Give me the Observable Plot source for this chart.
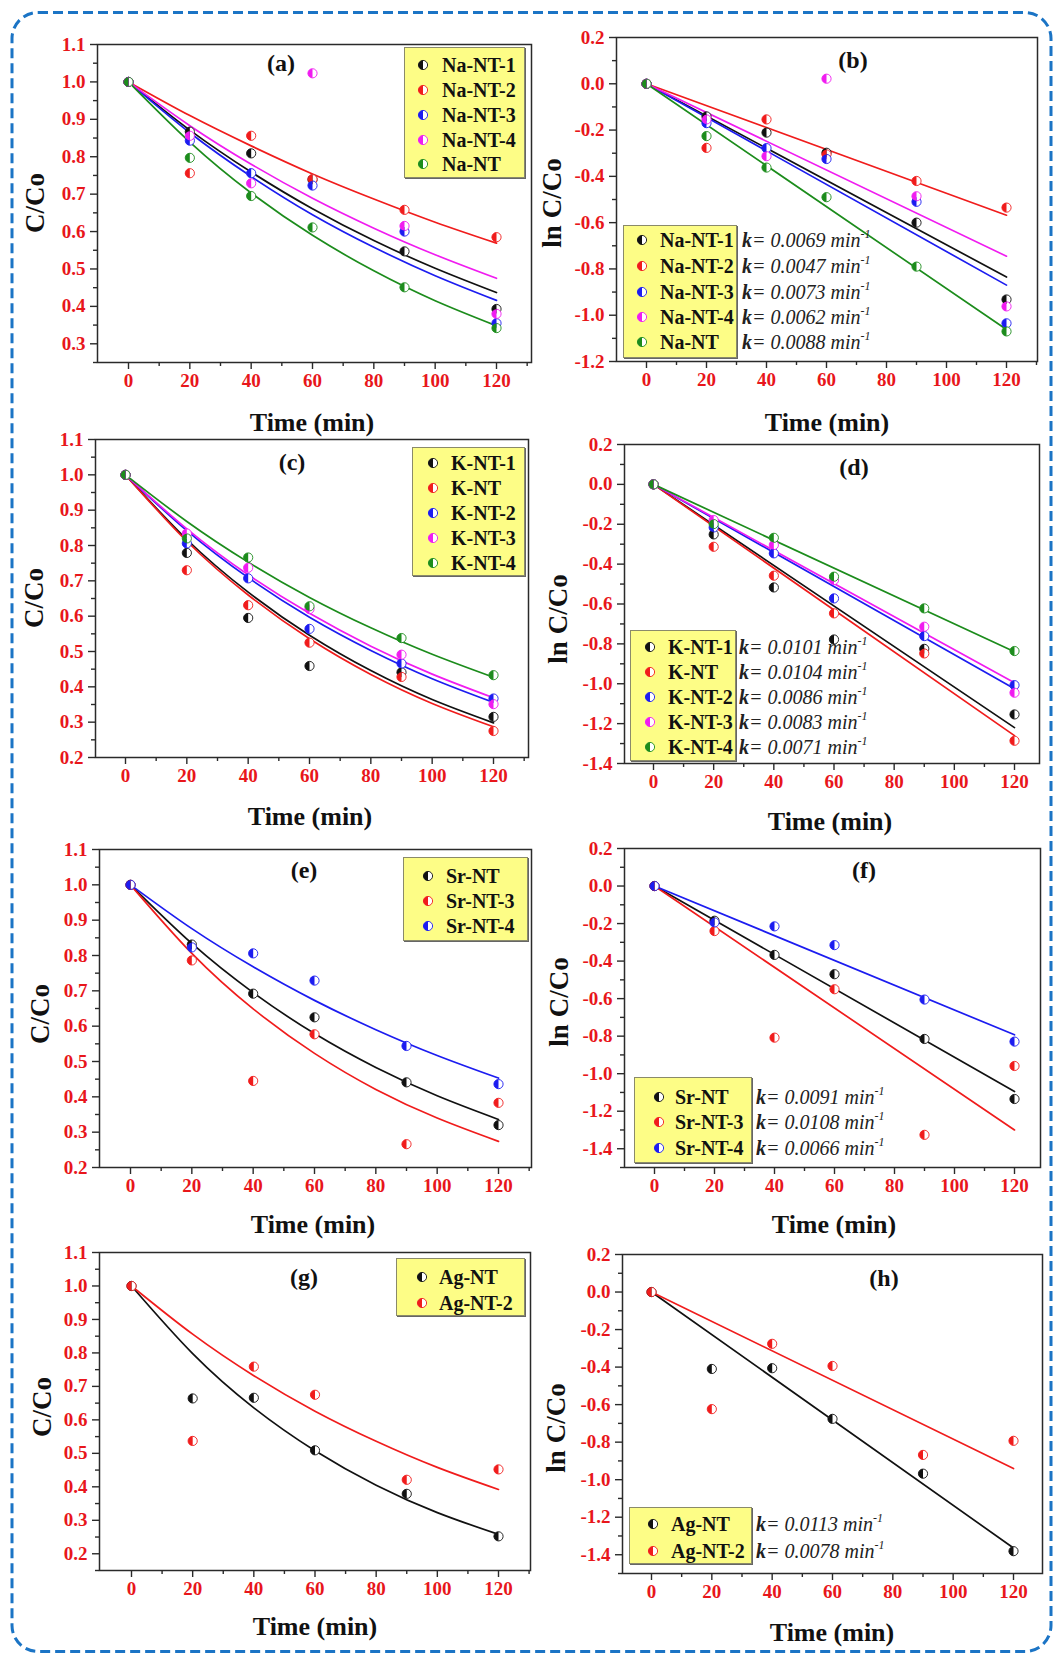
<!DOCTYPE html>
<html>
<head>
<meta charset="utf-8">
<script src="https://cdn.jsdelivr.net/npm/d3@7"></script>
<script src="https://cdn.jsdelivr.net/npm/@observablehq/plot@0.6"></script>
<style>
  body { margin: 0; background: #fff; }
  #root { position: relative; width: 1054px; height: 1654px; overflow: hidden; background: #fff;
          font-family: "Liberation Serif", "Times New Roman", serif; }
  #root svg text { font-family: "Liberation Serif", "Times New Roman", serif; font-weight: bold; font-size: 19px; }
  .ov { position: absolute; white-space: nowrap; line-height: 1; color: #111; }
  .title { font-weight: bold; font-size: 26px; transform: translate(-50%, -50%); }
  .ytitle { font-weight: bold; font-size: 27px; transform: translate(-50%, -50%) rotate(-90deg); }
  .plabel { font-weight: bold; font-size: 24px; transform: translate(-50%, -50%); }
  .lbox { position: absolute; background: #fdfd86; border: 1px solid #8a8a6a; box-shadow: 1px 1px 0 #666; }
  .ltext { font-weight: bold; font-size: 20px; transform: translateY(-50%); }
  .ktext { font-style: italic; font-size: 20px; transform: translateY(-50%); color: #222; }
  .ktext b { font-weight: bold; }
  .ktext sup { font-size: 12px; vertical-align: 9px; line-height: 0; }
</style>
</head>
<body>
<div id="root"></div>
<script>
// ---------------- data ----------------
const sampleTimes = [0, 20, 40, 60, 90, 120];
const fitTimesExp = [0, 20, 40, 60, 80, 100, 120];
const fitTimesLin = [0, 120];

const xMajor = [0, 20, 40, 60, 80, 100, 120];
const xMinor = [10, 30, 50, 70, 90, 110, 130];
const ratioMajor = [0.2, 0.3, 0.4, 0.5, 0.6, 0.7, 0.8, 0.9, 1.0, 1.1];
const ratioMinor = [0.15, 0.25, 0.35, 0.45, 0.55, 0.65, 0.75, 0.85, 0.95, 1.05];
const lnMajor = [-1.4, -1.2, -1.0, -0.8, -0.6, -0.4, -0.2, 0.0, 0.2];
const lnMinor = [-1.5, -1.3, -1.1, -0.9, -0.7, -0.5, -0.3, -0.1, 0.1];

// Na series (panels a, b)
const naNames = ["Na-NT-1", "Na-NT-2", "Na-NT-3", "Na-NT-4", "Na-NT"];
const naColors = ["#111111", "#f01c1c", "#1c1cf0", "#f01cf0", "#1c8c1c"];
const naRatio = [
  [1, 0.867, 0.809, 0.739, 0.547, 0.393],
  [1, 0.756, 0.856, 0.740, 0.658, 0.585],
  [1, 0.843, 0.756, 0.723, 0.600, 0.355],
  [1, 0.856, 0.729, 1.023, 0.615, 0.380],
  [1, 0.797, 0.695, 0.611, 0.451, 0.342]
];
const naRatioFit = [
  [1, 0.871, 0.759, 0.661, 0.576, 0.502, 0.437],
  [1, 0.910, 0.829, 0.754, 0.687, 0.625, 0.569],
  [1, 0.864, 0.747, 0.645, 0.558, 0.482, 0.416],
  [1, 0.883, 0.780, 0.689, 0.609, 0.538, 0.475],
  [1, 0.839, 0.703, 0.590, 0.495, 0.415, 0.348]
];
const naLn = [
  [0, -0.141, -0.211, -0.298, -0.600, -0.932],
  [0, -0.277, -0.154, -0.305, -0.420, -0.535],
  [0, -0.170, -0.278, -0.325, -0.510, -1.035],
  [0, -0.154, -0.313, 0.022, -0.486, -0.962],
  [0, -0.226, -0.362, -0.490, -0.790, -1.070]
];
const naLnFit = [[0, -0.835], [0, -0.568], [0, -0.870], [0, -0.745], [0, -1.062]];
const naK = ["0.0069", "0.0047", "0.0073", "0.0062", "0.0088"];

// K series (panels c, d)
const kNames = ["K-NT-1", "K-NT", "K-NT-2", "K-NT-3", "K-NT-4"];
const kColors = ["#111111", "#f01c1c", "#1c1cf0", "#f01cf0", "#1c8c1c"];
const kRatio = [
  [1, 0.779, 0.595, 0.459, 0.441, 0.315],
  [1, 0.730, 0.631, 0.525, 0.428, 0.275],
  [1, 0.806, 0.707, 0.564, 0.466, 0.367],
  [1, 0.834, 0.737, 0.620, 0.491, 0.351],
  [1, 0.820, 0.766, 0.628, 0.538, 0.433]
];
const kRatioFit = [
  [1, 0.817, 0.668, 0.546, 0.446, 0.364, 0.298],
  [1, 0.812, 0.660, 0.536, 0.435, 0.353, 0.287],
  [1, 0.842, 0.709, 0.597, 0.503, 0.423, 0.356],
  [1, 0.847, 0.717, 0.608, 0.515, 0.436, 0.369],
  [1, 0.868, 0.753, 0.653, 0.567, 0.492, 0.427]
];
const kLn = [
  [0, -0.251, -0.517, -0.778, -0.825, -1.154],
  [0, -0.313, -0.458, -0.647, -0.848, -1.286],
  [0, -0.216, -0.346, -0.572, -0.761, -1.007],
  [0, -0.179, -0.304, -0.480, -0.714, -1.045],
  [0, -0.199, -0.268, -0.463, -0.622, -0.836]
];
const kLnFit = [[0, -1.22], [0, -1.26], [0, -1.025], [0, -0.995], [0, -0.84]];
const kK = ["0.0101", "0.0104", "0.0086", "0.0083", "0.0071"];

// Sr series (panels e, f)
const srNames = ["Sr-NT", "Sr-NT-3", "Sr-NT-4"];
const srColors = ["#111111", "#f01c1c", "#1c1cf0"];
const srRatio = [
  [1, 0.831, 0.692, 0.625, 0.441, 0.320],
  [1, 0.786, 0.445, 0.577, 0.266, 0.383],
  [1, 0.823, 0.806, 0.729, 0.544, 0.436]
];
const srRatioFit = [
  [1, 0.834, 0.695, 0.579, 0.483, 0.403, 0.336],
  [1, 0.806, 0.649, 0.523, 0.421, 0.340, 0.274],
  [1, 0.876, 0.768, 0.673, 0.590, 0.517, 0.453]
];
const srLn = [
  [0, -0.185, -0.367, -0.470, -0.815, -1.135],
  [0, -0.240, -0.808, -0.550, -1.326, -0.959],
  [0, -0.194, -0.215, -0.315, -0.605, -0.829]
];
const srLnFit = [[0, -1.095], [0, -1.30], [0, -0.793]];
const srK = ["0.0091", "0.0108", "0.0066"];

// Ag series (panels g, h)
const agNames = ["Ag-NT", "Ag-NT-2"];
const agColors = ["#111111", "#f01c1c"];
const agRatio = [
  [1, 0.664, 0.666, 0.509, 0.379, 0.252],
  [1, 0.537, 0.759, 0.675, 0.421, 0.452]
];
const agRatioFit = [
  [1, 0.798, 0.636, 0.508, 0.405, 0.323, 0.258],
  [1, 0.856, 0.732, 0.626, 0.536, 0.458, 0.392]
];
const agLn = [
  [0, -0.410, -0.406, -0.676, -0.968, -1.381],
  [0, -0.624, -0.276, -0.394, -0.868, -0.793]
];
const agLnFit = [[0, -1.364], [0, -0.941]];
const agK = ["0.0113", "0.0078"];

// ---------------- drawing ----------------
const root = document.getElementById("root");

// dashed rounded border
(function () {
  const ns = "http://www.w3.org/2000/svg";
  const s = document.createElementNS(ns, "svg");
  s.setAttribute("width", 1054); s.setAttribute("height", 1654);
  s.style.position = "absolute"; s.style.left = "0"; s.style.top = "0";
  const r = document.createElementNS(ns, "rect");
  r.setAttribute("x", 12); r.setAttribute("y", 12.5);
  r.setAttribute("width", 1039); r.setAttribute("height", 1639);
  r.setAttribute("rx", 26);
  r.setAttribute("fill", "none"); r.setAttribute("stroke", "#1b74c5");
  r.setAttribute("stroke-width", 3); r.setAttribute("stroke-dasharray", "10 5");
  s.appendChild(r);
  root.appendChild(s);
})();

const halfLeft = {
  draw(ctx, size) {
    const r = Math.sqrt(size / Math.PI);
    ctx.moveTo(0, -r);
    ctx.arc(0, 0, r, -Math.PI / 2, Math.PI / 2, true);
    ctx.closePath();
  }
};

const TICK = "#2a2a2a";
const RED = "#e8161b";

function makePanel(p) {
  const ml = 100, mr = 30, mt = 30, mb = 50;
  const s = (p.x120 - p.x0) / 120;
  const xDomain = [(p.L - p.x0) / s, (p.R - p.x0) / s];
  const ptRows = p.names.flatMap((n, i) => sampleTimes.map((t, j) => ({s: n, t, v: p.pts[i][j]})));
  const fitRows = p.names.flatMap((n, i) => p.fitT.map((t, j) => ({s: n, t, v: p.fit[i][j]})));
  const inY = v => v >= p.y[0] - 1e-9 && v <= p.y[1] + 1e-9;
  const inX = v => v >= xDomain[0] && v <= xDomain[1];
  const txt = {fontSize: 19, fontWeight: "bold", fill: RED, stroke: TICK, strokeWidth: 1.4, label: null};
  const svg = Plot.plot({
    width: (p.R - p.L) + ml + mr,
    height: (p.B - p.T) + mt + mb,
    marginLeft: ml, marginRight: mr, marginTop: mt, marginBottom: mb,
    x: {domain: xDomain, label: null},
    y: {domain: p.y, label: null},
    color: {domain: p.names, range: p.colors},
    style: {background: "none", overflow: "visible", maxWidth: "none",
            fontFamily: '"Liberation Serif", "Times New Roman", serif'},
    marks: [
      Plot.line(fitRows, {x: "t", y: "v", z: "s", stroke: "s", strokeWidth: 1.7, curve: "natural"}),
      Plot.dot(ptRows, {x: "t", y: "v", r: 4.6, fill: "#ffffff", stroke: "s", strokeWidth: 0.9}),
      Plot.dot(ptRows, {x: "t", y: "v", r: 4.6, fill: "s", symbol: halfLeft}),
      Plot.frame({stroke: TICK, strokeWidth: 1.5}),
      Plot.axisX(xMajor.filter(inX), {...txt, tickSize: 7, tickPadding: 4, tickFormat: d => String(d)}),
      Plot.axisX(xMinor.filter(inX), {stroke: TICK, strokeWidth: 1.4, fill: "none", tickSize: 4, label: null}),
      Plot.axisY(p.yMajor.filter(inY), {...txt, tickSize: 7, tickPadding: 5, tickFormat: d => d.toFixed(1)}),
      Plot.axisY(p.yMinor.filter(inY), {stroke: TICK, strokeWidth: 1.4, fill: "none", tickSize: 4, label: null})
    ]
  });
  svg.style.position = "absolute";
  svg.style.left = (p.L - ml) + "px";
  svg.style.top = (p.T - mt) + "px";
  root.appendChild(svg);

  addText("title", p.xt[0], p.xt[1], "Time (min)");
  addText("ytitle", p.yt[0], p.yt[1], p.ylab);
  addText("plabel", p.pl[0], p.pl[1], p.plText);

  const lg = p.legend;
  const box = document.createElement("div");
  box.className = "lbox";
  box.style.left = lg.box[0] + "px"; box.style.top = lg.box[1] + "px";
  box.style.width = (lg.box[2] - lg.box[0]) + "px"; box.style.height = (lg.box[3] - lg.box[1]) + "px";
  root.appendChild(box);
  p.names.forEach((n, i) => {
    addMarker(lg.mx, lg.rows[i], p.colors[i]);
    addText("ltext", lg.tx, lg.rows[i], n);
    if (p.k) {
      const el = addText("ktext", lg.kx, lg.rows[i], "");
      el.innerHTML = `<b>k</b>= ${p.k[i]} min<sup>-1</sup>`;
    }
  });
}

function addText(cls, x, y, text) {
  const el = document.createElement("div");
  el.className = "ov " + cls;
  el.style.left = x + "px"; el.style.top = y + "px";
  el.textContent = text;
  root.appendChild(el);
  return el;
}

function addMarker(x, y, color) {
  const ns = "http://www.w3.org/2000/svg";
  const s = document.createElementNS(ns, "svg");
  s.setAttribute("width", 12); s.setAttribute("height", 12);
  s.style.position = "absolute"; s.style.left = (x - 6) + "px"; s.style.top = (y - 6) + "px";
  const c = document.createElementNS(ns, "circle");
  c.setAttribute("cx", 6); c.setAttribute("cy", 6); c.setAttribute("r", 4.6);
  c.setAttribute("fill", "#fff"); c.setAttribute("stroke", color); c.setAttribute("stroke-width", 0.9);
  const h = document.createElementNS(ns, "path");
  h.setAttribute("d", "M6,1.4 A4.6,4.6 0 0 0 6,10.6 Z");
  h.setAttribute("fill", color);
  s.appendChild(c); s.appendChild(h);
  root.appendChild(s);
}

const panels = [
  {L: 97, R: 531, x0: 128, x120: 496, T: 44, B: 362, y: [0.25, 1.1], yMajor: ratioMajor, yMinor: ratioMinor,
   names: naNames, colors: naColors, pts: naRatio, fitT: fitTimesExp, fit: naRatioFit,
   xt: [312, 423], yt: [35, 203], ylab: "C/Co", pl: [281, 63], plText: "(a)",
   legend: {box: [404, 47, 523, 176], mx: 423, tx: 442, rows: [65, 90, 115, 140, 164]}},
  {L: 616, R: 1037, x0: 646, x120: 1006, T: 37, B: 361, y: [-1.2, 0.2], yMajor: lnMajor, yMinor: lnMinor,
   names: naNames, colors: naColors, pts: naLn, fitT: fitTimesLin, fit: naLnFit,
   xt: [827, 423], yt: [552, 203], ylab: "ln C/Co", pl: [853, 60], plText: "(b)", k: naK,
   legend: {box: [623, 225, 735, 356], mx: 642, tx: 660, kx: 742, rows: [240, 266, 292, 317, 342]}},
  {L: 95, R: 528, x0: 125, x120: 493, T: 439, B: 757, y: [0.2, 1.1], yMajor: ratioMajor, yMinor: ratioMinor,
   names: kNames, colors: kColors, pts: kRatio, fitT: fitTimesExp, fit: kRatioFit,
   xt: [310, 817], yt: [34, 598], ylab: "C/Co", pl: [292, 462], plText: "(c)",
   legend: {box: [412, 447, 523, 574], mx: 433, tx: 451, rows: [463, 488, 513, 538, 563]}},
  {L: 624, R: 1039, x0: 653, x120: 1014, T: 444, B: 763, y: [-1.4, 0.2], yMajor: lnMajor, yMinor: lnMinor,
   names: kNames, colors: kColors, pts: kLn, fitT: fitTimesLin, fit: kLnFit,
   xt: [830, 822], yt: [558, 619], ylab: "ln C/Co", pl: [854, 467], plText: "(d)", k: kK,
   legend: {box: [630, 630, 734, 759], mx: 650, tx: 668, kx: 739, rows: [647, 672, 697, 722, 747]}},
  {L: 99, R: 531, x0: 130, x120: 498, T: 849, B: 1167, y: [0.2, 1.1], yMajor: ratioMajor, yMinor: ratioMinor,
   names: srNames, colors: srColors, pts: srRatio, fitT: fitTimesExp, fit: srRatioFit,
   xt: [313, 1225], yt: [40, 1014], ylab: "C/Co", pl: [304, 870], plText: "(e)",
   legend: {box: [403, 857, 526, 939], mx: 428, tx: 446, rows: [876, 901, 926]}},
  {L: 624, R: 1040, x0: 654, x120: 1014, T: 848, B: 1167, y: [-1.5, 0.2], yMajor: lnMajor, yMinor: lnMinor,
   names: srNames, colors: srColors, pts: srLn, fitT: fitTimesLin, fit: srLnFit,
   xt: [834, 1225], yt: [559, 1002], ylab: "ln C/Co", pl: [864, 870], plText: "(f)", k: srK,
   legend: {box: [634, 1077, 750, 1161], mx: 659, tx: 675, kx: 756, rows: [1097, 1122, 1148]}},
  {L: 99, R: 530, x0: 131, x120: 498, T: 1252, B: 1570, y: [0.15, 1.1], yMajor: ratioMajor, yMinor: ratioMinor,
   names: agNames, colors: agColors, pts: agRatio, fitT: fitTimesExp, fit: agRatioFit,
   xt: [315, 1627], yt: [42, 1407], ylab: "C/Co", pl: [304, 1277], plText: "(g)",
   legend: {box: [396, 1258, 523, 1314], mx: 422, tx: 439, rows: [1277, 1303]}},
  {L: 622, R: 1042, x0: 651, x120: 1013, T: 1254, B: 1573, y: [-1.5, 0.2], yMajor: lnMajor, yMinor: lnMinor,
   names: agNames, colors: agColors, pts: agLn, fitT: fitTimesLin, fit: agLnFit,
   xt: [832, 1633], yt: [556, 1428], ylab: "ln C/Co", pl: [884, 1278], plText: "(h)", k: agK,
   legend: {box: [629, 1507, 750, 1562], mx: 653, tx: 671, kx: 756, rows: [1524, 1551]}}
];

panels.forEach(makePanel);
</script>
</body>
</html>
